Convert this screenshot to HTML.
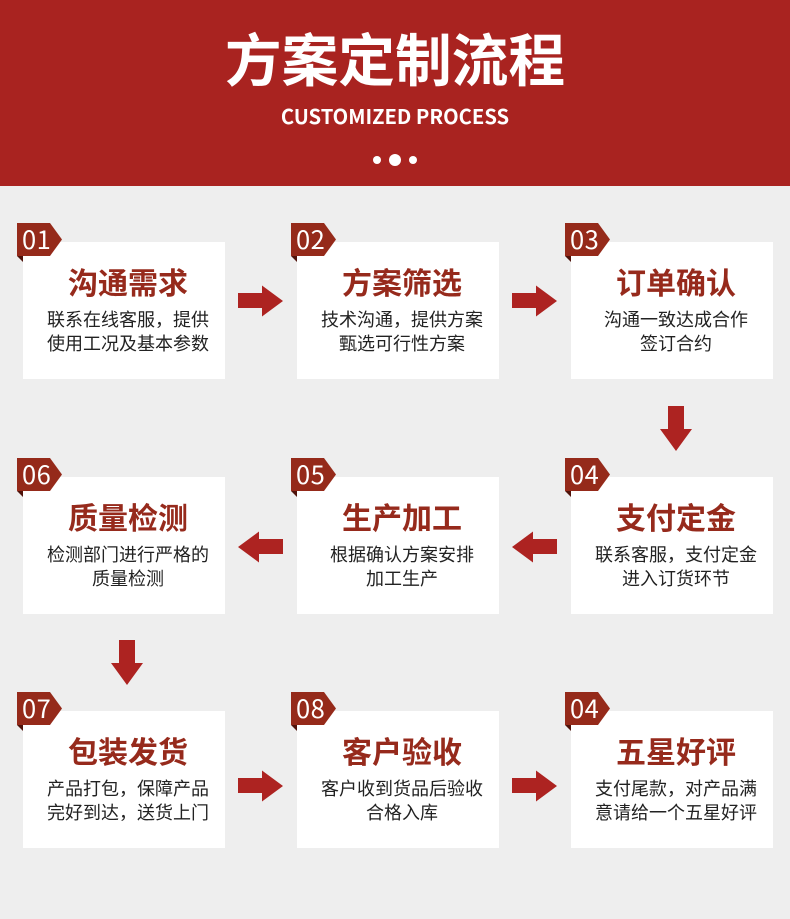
<!DOCTYPE html>
<html lang="zh">
<head>
<meta charset="utf-8">
<style>
html,body{margin:0;padding:0;}
body{width:790px;height:919px;background:#eeeeee;position:relative;overflow:hidden;font-family:"Liberation Sans","Noto Sans CJK SC",sans-serif;}
.hd{position:absolute;left:0;top:0;width:790px;height:186px;background:#a92320;}
.t1{position:absolute;left:0;top:17px;width:790px;text-align:center;color:#fff;font:700 56.7px/80px "Noto Sans CJK SC",sans-serif;letter-spacing:0;white-space:nowrap;}
.t2{position:absolute;left:0;top:101px;width:790px;text-align:center;color:#fff;font:700 20.2px/30px "Noto Sans CJK SC",sans-serif;white-space:nowrap;}
.dot{position:absolute;background:#fff;border-radius:50%;}
.card{position:absolute;width:202px;height:137px;background:#fff;text-align:center;}
.card h3{position:absolute;left:4px;top:19px;width:100%;margin:0;color:#962a1c;font:700 30px/40px "Noto Sans CJK SC",sans-serif;white-space:nowrap;}
.card p{position:absolute;left:4px;top:65px;width:100%;margin:0;color:#222;font:400 18px/24px "Noto Sans CJK SC",sans-serif;white-space:nowrap;}
svg.o{position:absolute;left:0;top:0;}
.n{position:absolute;width:36px;margin-top:-1px;text-align:left;color:#fff;font:400 25.5px/33px "Noto Sans CJK SC",sans-serif;letter-spacing:.5px;white-space:nowrap;}
</style>
</head>
<body>
<div class="hd"></div>
<div class="t1">方案定制流程</div>
<div class="t2">CUSTOMIZED PROCESS</div>
<div class="dot" style="left:373px;top:156px;width:8px;height:8px"></div>
<div class="dot" style="left:389px;top:154px;width:12px;height:12px"></div>
<div class="dot" style="left:409px;top:156px;width:8px;height:8px"></div>

<div class="card" style="left:23px;top:242px"><h3>沟通需求</h3><p>联系在线客服，提供<br>使用工况及基本参数</p></div>
<div class="card" style="left:297px;top:242px"><h3>方案筛选</h3><p>技术沟通，提供方案<br>甄选可行性方案</p></div>
<div class="card" style="left:571px;top:242px"><h3>订单确认</h3><p>沟通一致达成合作<br>签订合约</p></div>
<div class="card" style="left:23px;top:477px"><h3>质量检测</h3><p>检测部门进行严格的<br>质量检测</p></div>
<div class="card" style="left:297px;top:477px"><h3>生产加工</h3><p>根据确认方案安排<br>加工生产</p></div>
<div class="card" style="left:571px;top:477px"><h3>支付定金</h3><p>联系客服，支付定金<br>进入订货环节</p></div>
<div class="card" style="left:23px;top:711px"><h3>包装发货</h3><p>产品打包，保障产品<br>完好到达，送货上门</p></div>
<div class="card" style="left:297px;top:711px"><h3>客户验收</h3><p>客户收到货品后验收<br>合格入库</p></div>
<div class="card" style="left:571px;top:711px"><h3>五星好评</h3><p>支付尾款，对产品满<br>意请给一个五星好评</p></div>

<svg class="o" width="790" height="919" viewBox="0 0 790 919">
<defs>
<g id="b"><polygon points="0,33 6,33 6,39" fill="#4f130b"/><polygon points="0,0 33,0 45,16.500 33,33 0,33" fill="#952a1a"/></g>
<polygon id="r" points="0,8 24,8 24,0.500 45,16 24,31.500 24,23 0,23" fill="#ad2321"/>
<polygon id="l" points="45,8 21,8 21,0.500 0,16 21,31.500 21,23 45,23" fill="#ad2321"/>
<polygon id="d" points="8,0 24,0 24,23 32,23 16,45 0,23 8,23" fill="#ad2321"/>
</defs>
<use href="#b" x="17" y="223"/><use href="#b" x="291" y="223"/><use href="#b" x="565" y="223"/>
<use href="#b" x="17" y="458"/><use href="#b" x="291" y="458"/><use href="#b" x="565" y="458"/>
<use href="#b" x="17" y="692"/><use href="#b" x="291" y="692"/><use href="#b" x="565" y="692"/>
<use href="#r" x="238" y="285"/><use href="#r" x="512" y="285"/>
<use href="#d" x="660" y="406"/>
<use href="#l" x="238" y="531"/><use href="#l" x="512" y="531"/>
<use href="#d" x="111" y="640"/>
<use href="#r" x="238" y="770"/><use href="#r" x="512" y="770"/>
</svg>

<div class="n" style="left:22px;top:223px">01</div>
<div class="n" style="left:296px;top:223px">02</div>
<div class="n" style="left:570px;top:223px">03</div>
<div class="n" style="left:22px;top:458px">06</div>
<div class="n" style="left:296px;top:458px">05</div>
<div class="n" style="left:570px;top:458px">04</div>
<div class="n" style="left:22px;top:692px">07</div>
<div class="n" style="left:296px;top:692px">08</div>
<div class="n" style="left:570px;top:692px">04</div>
</body>
</html>
